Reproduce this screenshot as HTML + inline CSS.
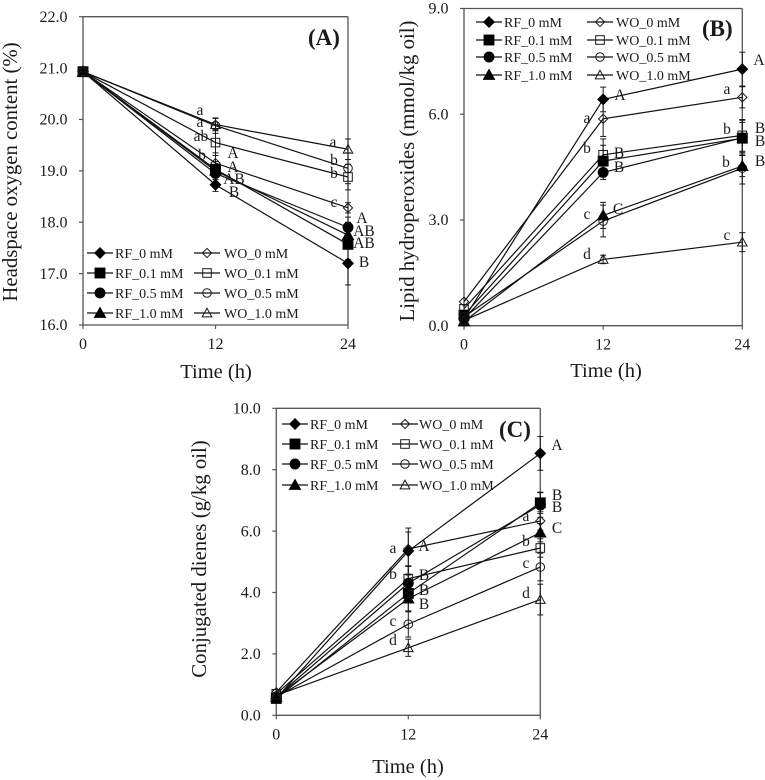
<!DOCTYPE html>
<html lang="en">
<head>
<meta charset="utf-8">
<title>Oxidation charts</title>
<style>
html,body{margin:0;padding:0;background:#fff;}
#figure{display:block;width:765px;height:780px;font-family:"Liberation Serif",serif;fill:#1a1a1a;}
</style>
</head>
<body>
<svg id="figure" xmlns="http://www.w3.org/2000/svg" width="765" height="780" viewBox="0 0 765 780"></svg>
<script>
const times = [0, 12, 24];
const seriesNames = ['RF_0 mM', 'WO_0 mM', 'RF_0.1 mM', 'WO_0.1 mM', 'RF_0.5 mM', 'WO_0.5 mM', 'RF_1.0 mM', 'WO_1.0 mM'];
const markerKinds = ['diamond', 'diamond', 'square', 'square', 'circle', 'circle', 'triangle', 'triangle'];

const ticksA = ['16.0', '17.0', '18.0', '19.0', '20.0', '21.0', '22.0'];
const a_RF0 = [20.93, 18.73, 17.2];
const a_WO0 = [20.93, 19.15, 18.28];
const a_RF01 = [20.93, 19.03, 17.57];
const a_WO01 = [20.93, 19.55, 18.88];
const a_RF05 = [20.93, 18.95, 17.9];
const a_WO05 = [20.93, 19.88, 19.05];
const a_RF10 = [20.93, 19.0, 17.75];
const a_WO10 = [20.93, 19.9, 19.42];
const aErr_RF0 = [0, 0.13, 0.42];
const aErr_WO0 = [0, 0.2, 0.1];
const aErr_RF01 = [0, 0.15, 0.3];
const aErr_WO01 = [0, 0.25, 0.25];
const aErr_RF05 = [0, 0.12, 0.2];
const aErr_WO05 = [0, 0.15, 0.3];
const aErr_RF10 = [0, 0.1, 0.25];
const aErr_WO10 = [0, 0.12, 0.2];

const ticksB = ['0.0', '3.0', '6.0', '9.0'];
const b_RF0 = [0.2, 6.42, 7.28];
const b_WO0 = [0.68, 5.87, 6.48];
const b_RF01 = [0.3, 4.67, 5.32];
const b_WO01 = [0.48, 4.85, 5.4];
const b_RF05 = [0.2, 4.35, 5.33];
const b_WO05 = [0.25, 2.97, 4.47];
const b_RF10 = [0.12, 3.13, 4.53];
const b_WO10 = [0.15, 1.88, 2.37];
const bErr_RF0 = [0, 0.35, 0.48];
const bErr_WO0 = [0, 0.5, 0.3];
const bErr_RF01 = [0, 0.45, 0.45];
const bErr_WO01 = [0, 0.45, 0.45];
const bErr_RF05 = [0, 0.2, 0.5];
const bErr_WO05 = [0, 0.45, 0.45];
const bErr_RF10 = [0, 0.37, 0.3];
const bErr_WO10 = [0, 0.12, 0.27];

const ticksC = ['0.0', '2.0', '4.0', '6.0', '8.0', '10.0'];
const c_RF0 = [0.55, 5.35, 8.53];
const c_WO0 = [0.75, 5.42, 6.33];
const c_RF01 = [0.55, 3.97, 6.92];
const c_WO01 = [0.7, 4.45, 5.45];
const c_RF05 = [0.6, 4.3, 6.85];
const c_WO05 = [0.6, 2.97, 4.83];
const c_RF10 = [0.6, 3.8, 5.95];
const c_WO10 = [0.65, 2.2, 3.77];
const cErr_RF0 = [0, 0.75, 0.55];
const cErr_WO0 = [0, 0.55, 0.3];
const cErr_RF01 = [0, 0.6, 0.35];
const cErr_WO01 = [0, 0.4, 0.3];
const cErr_RF05 = [0, 0.55, 0.4];
const cErr_WO05 = [0, 0.42, 0.45];
const cErr_RF10 = [0, 0.4, 0.3];
const cErr_WO10 = [0, 0.28, 0.5];

const seriesA = [a_RF0, a_WO0, a_RF01, a_WO01, a_RF05, a_WO05, a_RF10, a_WO10];
const errorsA = [aErr_RF0, aErr_WO0, aErr_RF01, aErr_WO01, aErr_RF05, aErr_WO05, aErr_RF10, aErr_WO10];
const seriesB = [b_RF0, b_WO0, b_RF01, b_WO01, b_RF05, b_WO05, b_RF10, b_WO10];
const errorsB = [bErr_RF0, bErr_WO0, bErr_RF01, bErr_WO01, bErr_RF05, bErr_WO05, bErr_RF10, bErr_WO10];
const seriesC = [c_RF0, c_WO0, c_RF01, c_WO01, c_RF05, c_WO05, c_RF10, c_WO10];
const errorsC = [cErr_RF0, cErr_WO0, cErr_RF01, cErr_WO01, cErr_RF05, cErr_WO05, cErr_RF10, cErr_WO10];

const NS = 'http://www.w3.org/2000/svg';
const INK = '#1a1a1a';
const AXIS = '#555555';
const root = document.getElementById('figure');

function make(tag, attrs, parent) {
  const el = document.createElementNS(NS, tag);
  for (const k in attrs) el.setAttribute(k, attrs[k]);
  parent.appendChild(el);
  return el;
}

function seg(parent, name, x1, y1, x2, y2, color, width) {
  const el = make('line', {x1: x1, y1: y1, x2: x2, y2: y2, stroke: color, 'stroke-width': width}, parent);
  
  
  return el;
}

function label(parent, name, str, x, y, size, anchor, bold) {
  const el = make('text', {x: x, y: y, 'font-size': size, 'text-anchor': anchor || 'start'}, parent);
  if (bold) el.setAttribute('font-weight', 'bold');
  el.textContent = str;
  
  
  return el;
}

function marker(parent, kind, filled, x, y) {
  const s = filled ? 1.15 : 1;
  let el;
  if (kind === 'diamond') {
    const r = 4.6 * s;
    el = make('polygon', {points: [x, y - r, x + r, y, x, y + r, x - r, y].join(' ')}, parent);
  } else if (kind === 'square') {
    const r = 4.3 * s;
    el = make('rect', {x: x - r, y: y - r, width: 2 * r, height: 2 * r}, parent);
  } else if (kind === 'circle') {
    el = make('circle', {cx: x, cy: y, r: 4.3 * s}, parent);
  } else {
    const r = 4.8 * s;
    el = make('polygon', {points: [x, y - r, x + r, y + r * 0.8, x - r, y + r * 0.8].join(' ')}, parent);
  }
  el.setAttribute('fill', filled ? '#000' : 'none');
  el.setAttribute('stroke', filled ? '#000' : INK);
  el.setAttribute('stroke-width', 1);
  
  
  return el;
}

function drawPanel(cfg) {
  const g = make('g', {}, root);
  
  

  const sx = function (t) { return cfg.x0 + (t - times[0]) / (times[2] - times[0]) * (cfg.x1 - cfg.x0); };
  const sy = function (v) { return cfg.yBottom - (v - cfg.min) / (cfg.max - cfg.min) * (cfg.yBottom - cfg.yTop); };

  seg(g, 'y-axis', cfg.x0, cfg.yTop, cfg.x0, cfg.yBottom, AXIS, 1.3);
  seg(g, 'x-axis', cfg.x0, cfg.yBottom, cfg.x1, cfg.yBottom, AXIS, 1.3);
  seg(g, 'plot-top-border', cfg.x0, cfg.yTop, cfg.x1, cfg.yTop, AXIS, 1.3);
  seg(g, 'plot-right-border', cfg.x1, cfg.yTop, cfg.x1, cfg.yBottom, AXIS, 1.3);

  cfg.ticks.forEach(function (t) {
    const y = sy(parseFloat(t));
    seg(g, 'y-tick', cfg.x0 - 4, y, cfg.x0, y, AXIS, 1.2);
    label(g, 'y-tick-label', t, cfg.x0 - 15.5, y + 5.2, 16, 'end');
  });
  times.forEach(function (t) {
    const x = sx(t);
    seg(g, 'x-tick', x, cfg.yBottom, x, cfg.yBottom + 4, AXIS, 1.2);
    label(g, 'x-tick-label', String(t), x, cfg.yBottom + 24, 16, 'middle');
  });

  label(g, 'x-axis-title', 'Time (h)', cfg.xTitleX, cfg.xTitleY, 20.5, 'middle');
  const yt = label(g, 'y-axis-title', cfg.yTitle, 0, 0, 20.8, 'middle');
  yt.setAttribute('transform', 'translate(' + cfg.yTitleX + ',' + cfg.yTitleY + ') rotate(-90)');
  label(g, 'panel-letter', cfg.letter, cfg.letterX, cfg.letterY, 23, 'start', true);

  cfg.series.forEach(function (vals, i) {
    const errs = cfg.errors[i];
    times.forEach(function (t, k) {
      if (errs[k] <= 0) return;
      const x = sx(t);
      const hi = sy(vals[k] + errs[k]);
      const lo = sy(vals[k] - errs[k]);
      seg(g, 'error-bar', x, hi, x, lo, INK, 1);
      seg(g, 'error-cap', x - 3, hi, x + 3, hi, INK, 1);
      seg(g, 'error-cap', x - 3, lo, x + 3, lo, INK, 1);
    });
  });

  cfg.series.forEach(function (vals, i) {
    const pts = times.map(function (t, k) { return sx(t) + ',' + sy(vals[k]); }).join(' ');
    const line = make('polyline', {points: pts, fill: 'none', stroke: '#111', 'stroke-width': 1.2}, g);
    
    
  });
  cfg.series.forEach(function (vals, i) {
    times.forEach(function (t, k) {
      marker(g, markerKinds[i], i % 2 === 0, sx(t), sy(vals[k]));
    });
  });

  seriesNames.forEach(function (name, i) {
    const col = i % 2;
    const row = Math.floor(i / 2);
    const x = cfg.legendX[col];
    const y = cfg.legendY[row];
    const entry = make('g', {}, g);
    
    
    seg(entry, 'legend-line', x, y, x + 26, y, '#111', 1.2);
    marker(entry, markerKinds[i], col === 0, x + 13, y);
    label(entry, 'legend-label', name, x + cfg.legendGap[col], y + 4.8, 14, 'start');
  });

  cfg.notes.forEach(function (n) {
    label(g, 'significance-letter', n[0], n[1], n[2], 15.5, 'middle');
  });
}

drawPanel({
  id: 'a', x0: 83, x1: 348, yTop: 16.7, yBottom: 325, min: 16, max: 22,
  ticks: ticksA, series: seriesA, errors: errorsA,
  yTitle: 'Headspace oxygen content (%)', yTitleX: 17, yTitleY: 172,
  xTitleX: 216, xTitleY: 378, letter: '(A)', letterX: 308, letterY: 45,
  legendX: [87, 194], legendY: [253, 273, 293, 313], legendGap: [28, 30],
  notes: [['a',200,115],['a',200,127],['ab',201,141],['b',202,160],['A',233,158],['A',233,172],['AB',234,184],['B',234,197],
          ['a',333,147],['b',334,165],['b',334,178],['c',334,207],['A',362,223],['AB',364,236],['AB',364,248],['B',364,267]]
});

drawPanel({
  id: 'b', x0: 464, x1: 742.3, yTop: 8.5, yBottom: 325.7, min: 0, max: 9,
  ticks: ticksB, series: seriesB, errors: errorsB,
  yTitle: 'Lipid hydroperoxides (mmol/kg oil)', yTitleX: 414, yTitleY: 171,
  xTitleX: 606, xTitleY: 377, letter: '(B)', letterX: 702, letterY: 36,
  legendX: [476, 587], legendY: [22, 40, 57, 75], legendGap: [28, 29],
  notes: [['A',620,100],['a',587,123],['b',587,153],['B',619,158],['B',619,172],['c',587,219],['C',618,214],['d',587,259],
          ['A',759,65],['a',727,94],['b',727,134],['B',760,133],['B',760,146],['b',726,167],['B',760,166],['c',727,240]]
});

drawPanel({
  id: 'c', x0: 276.3, x1: 540.3, yTop: 408.3, yBottom: 715.3, min: 0, max: 10,
  ticks: ticksC, series: seriesC, errors: errorsC,
  yTitle: 'Conjugated dienes (g/kg oil)', yTitleX: 206, yTitleY: 559,
  xTitleX: 408, xTitleY: 773, letter: '(C)', letterX: 499, letterY: 437,
  legendX: [282, 392], legendY: [424, 444, 464, 485], legendGap: [28, 27],
  notes: [['a',393,553],['A',424,551],['b',393,579],['B',424,580],['B',424,595],['B',424,609],['c',393,626],['d',393,645],
          ['A',557,450],['B',557,500],['B',557,512],['a',526,521],['C',557,533],['b',526,546],['c',526,568],['d',526,598]]
});
</script>
</body>
</html>
